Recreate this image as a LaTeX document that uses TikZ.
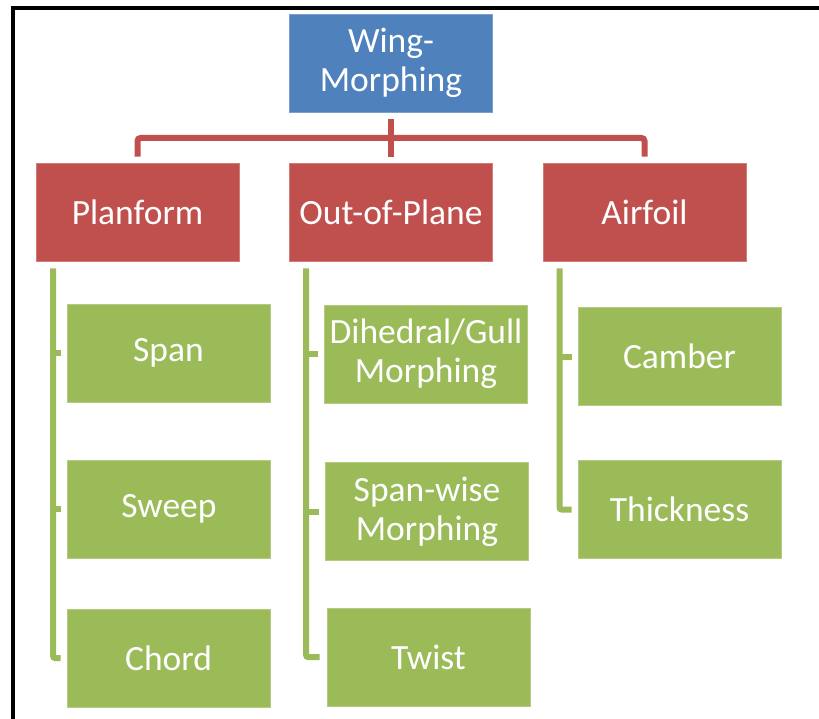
\documentclass[tikz,border=0pt]{standalone}
\usepackage{fontspec}
\setmainfont{Carlito}
\definecolor{wblue}{HTML}{4F81BD}
\definecolor{wred}{HTML}{C0504D}
\definecolor{wgreen}{HTML}{9BBB59}
\begin{document}
\begin{tikzpicture}[x=1pt,y=-1pt,
  box/.style={rectangle, minimum width=203pt, minimum height=98pt, inner sep=0pt,
    align=center, text=white, font=\fontsize{35.5}{39}\selectfont, line width=0.8pt},
  topbox/.style={box, fill=wblue, draw=wblue!75!white},
  midbox/.style={box, fill=wred, draw=wred!75!white},
  leafbox/.style={box, fill=wgreen, draw=wgreen!75!white},
  redline/.style={draw=wred, line width=6pt, rounded corners=3pt},
  greenline/.style={draw=wgreen, line width=6pt, rounded corners=2pt}]
\useasboundingbox (0,0) rectangle (819,719);
\fill[white] (0,0) rectangle (819,719);
\draw[line width=4pt] (13,719) -- (13,8) -- (819,8);

\node[topbox] (wm) at (391,63) {Wing-\\Morphing};
\node[midbox] (plan) at (137.5,212) {Planform};
\node[midbox] (oop) at (391,212) {Out-of-Plane};
\node[midbox] (air) at (644.5,212) {Airfoil};

\node[leafbox] (span) at (168.5,353) {Span};
\node[leafbox] (sweep) at (169,509) {Sweep};
\node[leafbox] (chord) at (168.5,658) {Chord};

\node[leafbox] (dih) at (426,354) {Dihedral/Gull\\Morphing};
\node[leafbox] (sw) at (427,511.5) {Span-wise\\Morphing};
\node[leafbox] (twist) at (428.5,657) {Twist};

\node[leafbox] (camber) at (679.5,356.5) {Camber};
\node[leafbox] (thick) at (679.5,509.5) {Thickness};

% red connectors
\coordinate (j) at (391,138);
\draw[redline] ([yshift=6pt]plan.north) |- (j) -| ([yshift=6pt]air.north);
\draw[draw=wred, line width=6pt] ([yshift=-7pt]wm.south) -- ([yshift=6pt]oop.north);

% green connectors: Planform
\coordinate (pt) at ([xshift=17.5pt,yshift=-7pt]plan.south west);
\draw[greenline] (pt) |- ([xshift=-6pt]chord.west);
\draw[greenline] ([xshift=-6pt]span.west) -- ++(-10,0);
\draw[greenline] ([xshift=-6pt]sweep.west) -- ++(-10,0);

% Out-of-Plane
\coordinate (ot) at ([xshift=17pt,yshift=-7pt]oop.south west);
\draw[greenline] (ot) |- ([xshift=-7pt]twist.west);
\draw[greenline] ([xshift=-6pt]dih.west) -- ++(-10,0);
\draw[greenline] ([xshift=-6pt]sw.west) -- ++(-10,0);

% Airfoil
\coordinate (at) at ([xshift=17pt,yshift=-7pt]air.south west);
\draw[greenline] (at) |- ([xshift=-6pt]thick.west);
\draw[greenline] ([xshift=-6pt]camber.west) -- ++(-10,0);
\end{tikzpicture}
\end{document}
